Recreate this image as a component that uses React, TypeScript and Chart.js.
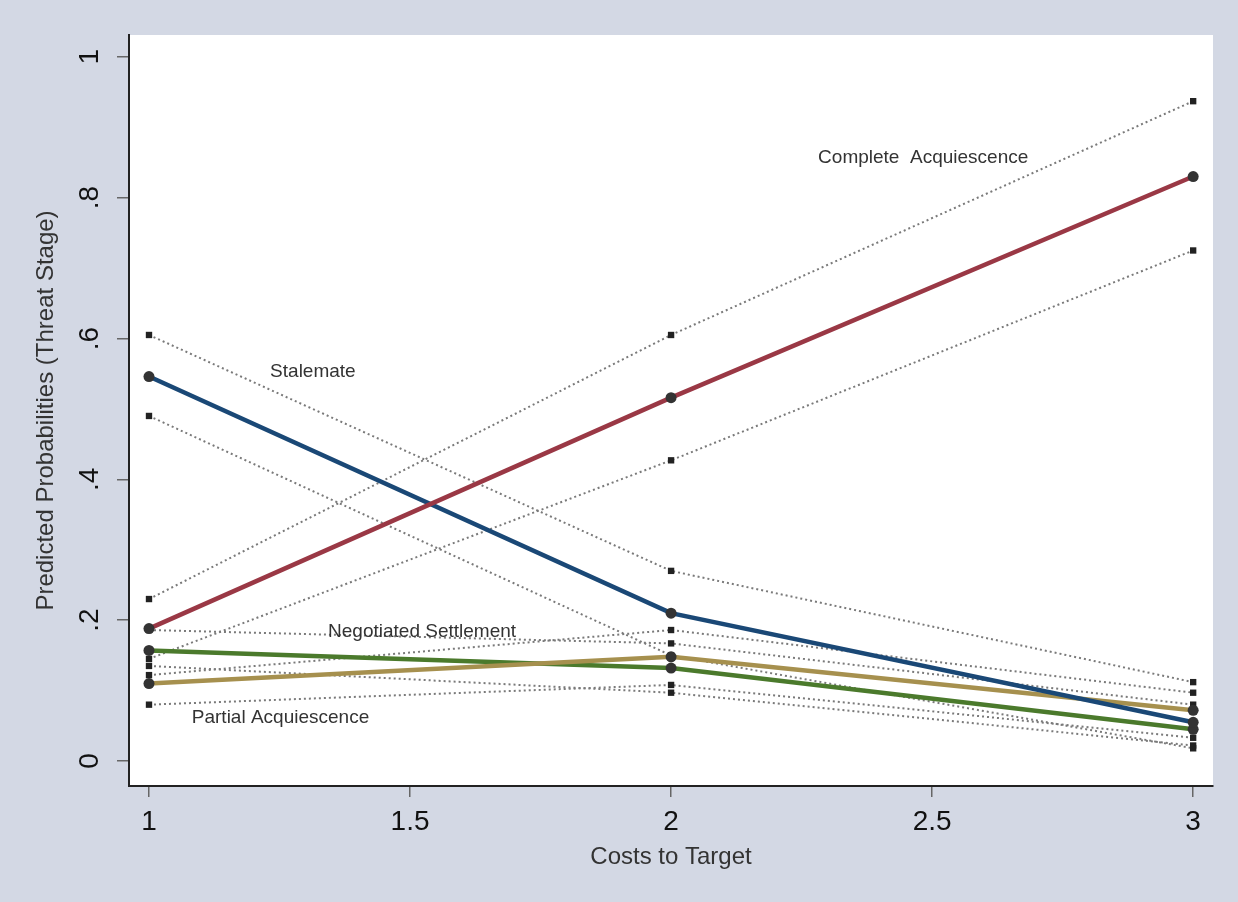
import React, { useEffect, useRef } from "react";
import { Chart, registerables } from "chart.js";

Chart.register(...registerables);

const costs = [1, 2, 3];
const xTicks = [1, 1.5, 2, 2.5, 3];
const yTicks = [0, 0.2, 0.4, 0.6, 0.8, 1];

const completeMain = [0.188, 0.516, 0.83];
const completeUpper = [0.23, 0.605, 0.937];
const completeLower = [0.145, 0.427, 0.725];

const stalemateMain = [0.546, 0.21, 0.055];
const stalemateUpper = [0.605, 0.27, 0.112];
const stalemateLower = [0.49, 0.15, 0.018];

const negotiatedMain = [0.157, 0.132, 0.045];
const negotiatedUpper = [0.186, 0.167, 0.08];
const negotiatedLower = [0.135, 0.097, 0.022];

const partialMain = [0.11, 0.148, 0.072];
const partialUpper = [0.122, 0.186, 0.097];
const partialLower = [0.08, 0.108, 0.033];

const labelTexts = ["Complete  Acquiescence", "Stalemate", "Negotiated Settlement", "Partial Acquiescence"];
const labelX = [2.2816, 1.232, 1.343, 1.082];
const labelY = [0.857, 0.5526, 0.183, 0.061];

const pts = (ys: number[]) => costs.map((x, i) => ({ x, y: ys[i] }));

const mainDs = (ys: number[], color: string) => ({
  data: pts(ys),
  borderColor: color,
  borderWidth: 4.5,
  pointRadius: 5.5,
  pointBackgroundColor: "#333333",
  pointBorderColor: "#333333",
  pointBorderWidth: 0,
  pointStyle: "circle",
  showLine: true,
  tension: 0,
  order: 0,
});

const ciDs = (ys: number[]) => ({
  data: pts(ys),
  borderColor: "#7a7a7a",
  borderWidth: 2,
  borderDash: [2, 3],
  pointRadius: 4.5,
  pointStyle: "rect",
  pointBackgroundColor: "#222222",
  pointBorderColor: "#222222",
  pointBorderWidth: 0,
  showLine: true,
  tension: 0,
  order: 1,
});

const bgPlugin = {
  id: "bgPlugin",
  beforeDraw(chart: any) {
    const { ctx, chartArea } = chart;
    ctx.save();
    ctx.fillStyle = "#d3d8e4";
    ctx.fillRect(0, 0, chart.width, chart.height);
    ctx.fillStyle = "#ffffff";
    ctx.fillRect(chartArea.left, chartArea.top, chartArea.right - chartArea.left, chartArea.bottom - chartArea.top);
    ctx.restore();
  },
};

const textPlugin = {
  id: "textPlugin",
  afterDatasetsDraw(chart: any) {
    const { ctx, scales } = chart;
    ctx.save();
    ctx.font = "19px 'Liberation Sans', Arial, sans-serif";
    ctx.fillStyle = "#333333";
    ctx.textAlign = "left";
    ctx.textBaseline = "middle";
    labelTexts.forEach((t, i) => {
      ctx.fillText(t, scales.x.getPixelForValue(labelX[i]), scales.y.getPixelForValue(labelY[i]));
    });
    ctx.restore();
  },
};

export default function App() {
  const ref = useRef<HTMLCanvasElement | null>(null);
  useEffect(() => {
    if (!ref.current) return;
    const chart = new Chart(ref.current, {
      type: "scatter",
      data: {
        datasets: [
          mainDs(completeMain, "#9a3845"),
          mainDs(stalemateMain, "#1a4876"),
          mainDs(partialMain, "#a6904e"),
          mainDs(negotiatedMain, "#4b7a2c"),
          ciDs(completeUpper),
          ciDs(completeLower),
          ciDs(stalemateUpper),
          ciDs(stalemateLower),
          ciDs(negotiatedUpper),
          ciDs(negotiatedLower),
          ciDs(partialUpper),
          ciDs(partialLower),
        ] as any,
      },
      options: {
        animation: false,
        responsive: false,
        layout: { padding: { top: 35, right: 25, left: 0, bottom: 0 } },
        plugins: { legend: { display: false }, tooltip: { enabled: false } },
        scales: {
          x: {
            type: "linear",
            min: 0.9617,
            max: 3.038,
            afterBuildTicks: (s: any) => {
              s.ticks = xTicks.map((v) => ({ value: v }));
            },
            afterFit: (s: any) => {
              s.height = 116;
            },
            border: { display: true, color: "#222222", width: 2 },
            grid: { display: true, drawOnChartArea: false, drawTicks: true, tickLength: 11, color: "#666666", lineWidth: 1.5 },
            ticks: {
              font: { family: "'Liberation Sans', Arial, sans-serif", size: 28 },
              color: "#111111",
              padding: 8,
              maxRotation: 0,
              minRotation: 0,
              callback: (v: any) => String(v),
            },
            title: {
              display: true,
              text: "Costs to Target",
              font: { family: "'Liberation Sans', Arial, sans-serif", size: 24 },
              color: "#333333",
              padding: { top: 0, bottom: 30 },
            },
          },
          y: {
            type: "linear",
            min: -0.0355,
            max: 1.031,
            afterBuildTicks: (s: any) => {
              s.ticks = yTicks.map((v) => ({ value: v }));
            },
            afterFit: (s: any) => {
              s.width = 129;
            },
            border: { display: true, color: "#222222", width: 2 },
            grid: { display: true, drawOnChartArea: false, drawTicks: true, tickLength: 12, color: "#666666", lineWidth: 1.5 },
            ticks: {
              font: { family: "'Liberation Sans', Arial, sans-serif", size: 28 },
              color: "#111111",
              padding: 15,
              minRotation: 90,
              maxRotation: 90,
              crossAlign: "center",
              callback: (v: any) => {
                const n = Number(v);
                if (n === 0) return "0";
                if (n === 1) return "1";
                return n.toFixed(1).replace(/^0/, "");
              },
            },
            title: {
              display: true,
              text: "Predicted Probabilities (Threat Stage)",
              font: { family: "'Liberation Sans', Arial, sans-serif", size: 24 },
              color: "#333333",
              padding: { top: 32, bottom: 0 },
            },
          },
        },
      },
      plugins: [bgPlugin, textPlugin],
    });
    return () => chart.destroy();
  }, []);
  return (
    <div style={{ position: "fixed", left: 0, top: 0, width: 1238, height: 902 }}>
      <canvas ref={ref} width={1238} height={902} style={{ display: "block" }} />
    </div>
  );
}
